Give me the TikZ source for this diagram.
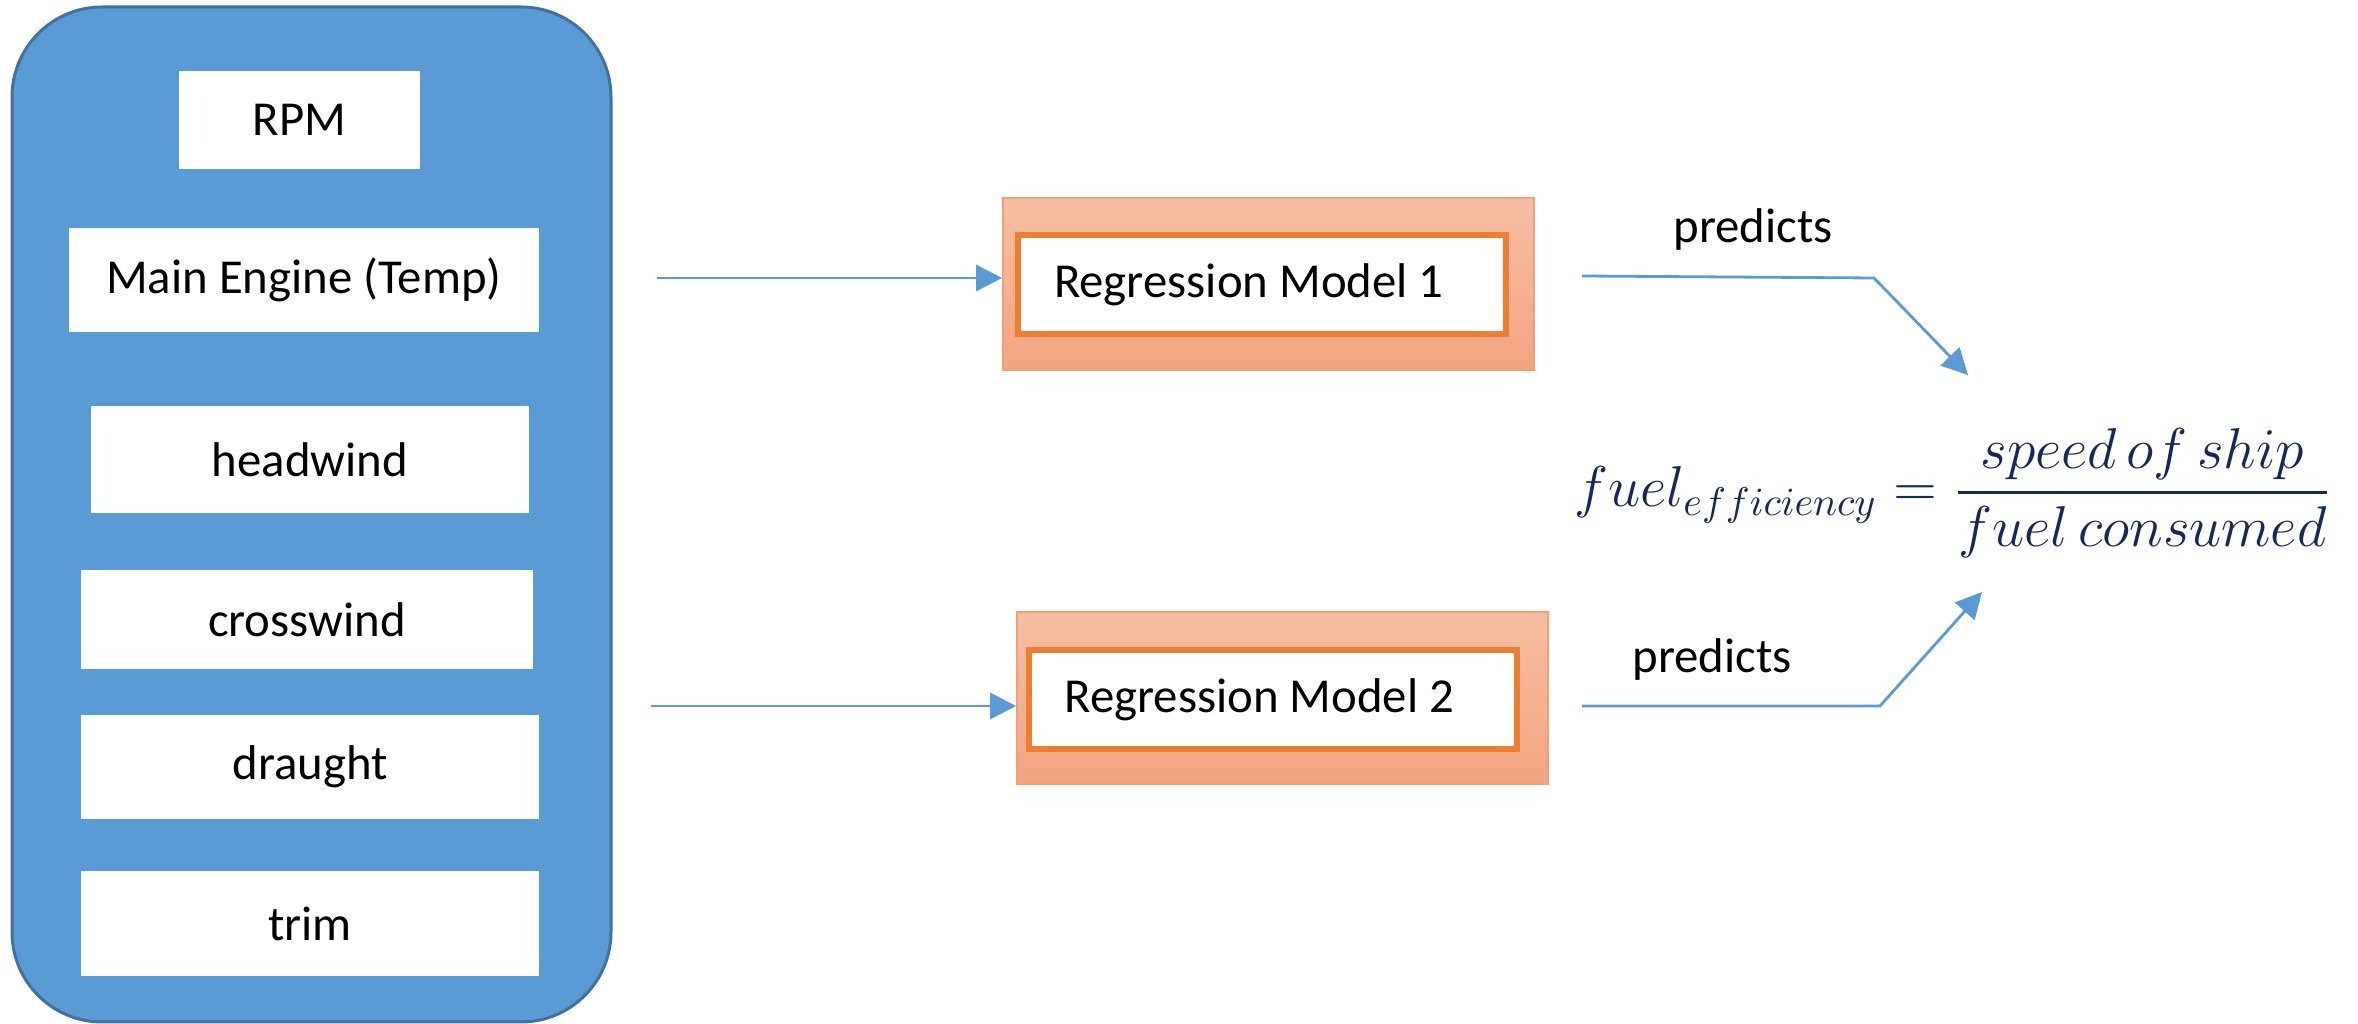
\documentclass[tikz,border=0pt]{standalone}
\usepackage{amsmath}
\usepackage{fontspec}
\setmainfont{Carlito}
\usetikzlibrary{arrows.meta}

\definecolor{panelblue}{RGB}{91,155,213}
\definecolor{paneledge}{RGB}{65,113,156}
\definecolor{modelorange}{RGB}{237,125,49}
\definecolor{modeltop}{RGB}{246,190,163}
\definecolor{modelbottom}{RGB}{243,164,128}
\definecolor{modeledge}{RGB}{238,160,120}
\definecolor{formulanavy}{RGB}{22,40,88}

\begin{document}
\begin{tikzpicture}[x=0.25pt,y=0.25pt,yscale=-1,xscale=1,
  feat/.style={fill=white, inner sep=0pt, font=\fontsize{12.2}{14}\selectfont},
  modelbg/.style={draw=modeledge, line width=0.4pt, top color=modeltop, bottom color=modelbottom, minimum width=132.75pt, minimum height=43pt, inner sep=0pt},
  model/.style={draw=modelorange, line width=1.5pt, fill=white, inner xsep=9pt, inner ysep=0pt, text width=104pt, align=flush left, minimum height=24.75pt, font=\fontsize{12.2}{14}\selectfont},
  lbl/.style={inner sep=0pt, font=\fontsize{12.2}{14}\selectfont},
  flow/.style={draw=panelblue, line width=0.7pt, -{Triangle[length=6.5pt,width=6.5pt]}}
]
\useasboundingbox (0,0) rectangle (2358,1024);

%Shape: Rounded Rect (input panel)
\draw [draw=paneledge, line width=0.75pt, fill=panelblue, rounded corners=22.5pt] (12,7) rectangle (611,1022);

% Input features
\node (rpm) [feat, minimum width=60.25pt, minimum height=24.5pt] at (299.5,120) {RPM};
\node (engine) [feat, minimum width=117.5pt, minimum height=26pt] at (304,280) {Main Engine (Temp)};
\node (headwind) [feat, minimum width=109.5pt, minimum height=26.75pt] at (310,459.5) {headwind};
\node (crosswind) [feat, minimum width=113pt, minimum height=24.75pt] at (307,619.5) {crosswind};
\node (draught) [feat, minimum width=114.5pt, minimum height=26pt] at (310,767) {draught};
\node (trim) [feat, minimum width=114.5pt, minimum height=26.25pt] at (310,923.5) {trim};

% Regression models
\node (m1bg) [modelbg] at (1268.5,284) {};
\node (m1) [model] at (1262,284.5) {Regression Model 1};
\node (m2bg) [modelbg] at (1282.5,698) {};
\node (m2) [model] at (1272.5,700) {Regression Model 2};

% Formula
\node (feff) [anchor=base, inner sep=0pt, text=formulanavy, font=\fontsize{14.4}{17}\selectfont] at (1953,507)
  {$\displaystyle fuel_{efficiency}=\frac{speed\,of\,ship}{fuel\,consumed}$};

% Labels
\node (pr1) [lbl] at (1753,230) {predicts};
\node (pr2) [lbl] at (1712,660) {predicts};

% Connectors
\coordinate (in1) at (657,278);
\coordinate (in2) at (651,706);
\coordinate (o1) at (1582,276);
\coordinate (k1) at (1874,278);
\coordinate (t1) at (1968,375);
\coordinate (o2) at (1582,706);
\coordinate (k2) at (1880,706);
\coordinate (t2) at (1982,592);

\draw [flow] (in1) -- (in1 -| m1bg.west);
\draw [flow] (in2) -- (in2 -| m2bg.west);
\draw [flow] (o1) -- (k1) -- (t1);
\draw [flow] (o2) -- (k2) -- (t2);

\end{tikzpicture}
\end{document}
